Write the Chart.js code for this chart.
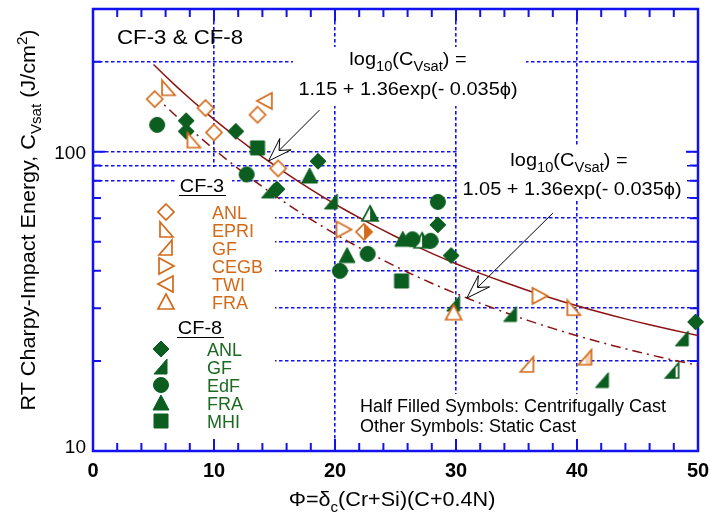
<!DOCTYPE html>
<html>
<head>
<meta charset="utf-8">
<script src="https://cdn.jsdelivr.net/npm/chart.js@4.4.1/dist/chart.umd.min.js"></script>
<style>
  html, body { margin: 0; padding: 0; background: #fff; }
  canvas { display: block; }
</style>
</head>
<body>
<canvas id="chart" width="711" height="521"></canvas>
<script>
// CF-3 heats (orange, open symbols)
const cf3AnlX = [5.1, 9.3, 10.0, 13.6, 15.3];
const cf3AnlY = [150, 140, 116, 133, 88];
const cf3AnlHalfX = [22.4];
const cf3AnlHalfY = [54];
const cf3EpriX = [6.2, 8.3, 39.7];
const cf3EpriY = [163, 109, 30];
const cf3GfX = [35.9];
const cf3GfY = [19.4];
const cf3GfHalfX = [40.7];
const cf3GfHalfY = [20.5];
const cf3CegbX = [20.7, 36.9];
const cf3CegbY = [55, 33];
const cf3TwiX = [14.2];
const cf3TwiY = [148];
const cf3FraX = [29.8];
const cf3FraY = [29];

// CF-8 heats (green, filled symbols)
const cf8AnlX = [7.7, 7.7, 11.8, 15.2, 18.6, 28.5, 29.6, 49.8];
const cf8AnlY = [127, 117, 117, 75, 93, 57, 45, 27];
const cf8GfX = [14.5, 19.7, 29.8, 34.5, 42.1, 48.7];
const cf8GfY = [74, 68, 31, 28.6, 17.2, 23.7];
const cf8GfHalfX = [47.9];
const cf8GfHalfY = [18.5];
const cf8EdfX = [5.3, 12.7, 20.4, 22.7, 26.4, 27.9, 28.5];
const cf8EdfY = [123, 84, 40, 45.6, 51, 50.4, 68];
const cf8FraX = [17.9, 21.0, 25.6];
const cf8FraY = [83, 45, 51];
const cf8FraHalfX = [22.9, 27.2];
const cf8FraHalfY = [62, 50.4];
const cf8MhiX = [13.6, 25.5];
const cf8MhiY = [103, 37];

// fit lines: log10(Cvsat) = a + b*exp(-k*phi)
const fitUpper = [1.15, 1.36, 0.035];
const fitLower = [1.05, 1.36, 0.035];
const fitPhi = [5, 6, 7, 8, 9, 10, 11, 12, 13, 14, 15, 16, 17, 18, 19, 20, 21, 22, 23, 24, 25, 26, 27, 28, 29,
  30, 31, 32, 33, 34, 35, 36, 37, 38, 39, 40, 41, 42, 43, 44, 45, 46, 47, 48, 49, 50];

// axes
const xMajorTicks = [0, 10, 20, 30, 40, 50];
const xMinorTicks = [2, 4, 6, 8, 12, 14, 16, 18, 22, 24, 26, 28, 32, 34, 36, 38, 42, 44, 46, 48];
const yTicks = [10, 20, 30, 40, 50, 60, 70, 80, 90, 100, 200, 300];
const yLabels = [10, 100];

const cf3Legend = ['ANL', 'EPRI', 'GF', 'CEGB', 'TWI', 'FRA'];
const cf8Legend = ['ANL', 'GF', 'EdF', 'FRA', 'MHI'];

const ORANGE = '#d36a1a';
const GREEN = '#0b5e1f';
const GREEN_TEXT = '#1b6a20';
const BLUE = '#1212ee';
const CURVE = '#8c1212';
const FONT = '"Liberation Sans", Arial, "DejaVu Sans", sans-serif';

const pts = (xs, ys) => xs.map((x, i) => ({ x, y: ys[i] }));
const fitCurve = ([a, b, k]) => fitPhi.map(p => ({ x: p, y: Math.pow(10, a + b * Math.exp(-k * p)) }));
const fitValue = ([a, b, k], p) => Math.pow(10, a + b * Math.exp(-k * p));

function shapePath(g, shape, c) {
  g.beginPath();
  switch (shape) {
    case 'diamond': g.moveTo(c, c - 8); g.lineTo(c + 8, c); g.lineTo(c, c + 8); g.lineTo(c - 8, c); break;
    case 'square': g.rect(c - 7, c - 7, 14, 14); break;
    case 'circle': g.arc(c, c, 7.5, 0, Math.PI * 2); break;
    case 'up': g.moveTo(c, c - 8); g.lineTo(c + 8, c + 7); g.lineTo(c - 8, c + 7); break;
    case 'right': g.moveTo(c - 7, c - 8); g.lineTo(c + 8, c); g.lineTo(c - 7, c + 8); break;
    case 'left': g.moveTo(c + 7, c - 8); g.lineTo(c - 8, c); g.lineTo(c + 7, c + 8); break;
    case 'cornerL': g.moveTo(c - 6, c - 8); g.lineTo(c + 7, c + 7); g.lineTo(c - 6, c + 7); break;
    case 'cornerR': g.moveTo(c + 6, c - 8); g.lineTo(c + 6, c + 7); g.lineTo(c - 7, c + 7); break;
  }
  g.closePath();
}

// fill: 'open' | 'solid' | 'half' (right half coloured) | 'mostly' (all but a right strip)
function makeSymbol(shape, color, fill, tint) {
  const cv = document.createElement('canvas');
  cv.width = cv.height = 20;
  const g = cv.getContext('2d');
  const c = 10;
  shapePath(g, shape, c);
  g.fillStyle = fill === 'solid' ? color : '#fff';
  g.fill();
  if (fill === 'half' || fill === 'mostly') {
    g.save();
    shapePath(g, shape, c);
    g.clip();
    g.fillStyle = tint || color;
    if (fill === 'half') g.fillRect(c, 0, 10, 20);
    else g.fillRect(0, 0, c + 3, 20);
    g.restore();
  }
  shapePath(g, shape, c);
  g.lineWidth = fill === 'solid' ? 1 : 1.7;
  g.strokeStyle = color;
  g.stroke();
  return cv;
}

const sym = {
  cf3Anl: makeSymbol('diamond', ORANGE, 'open'),
  cf3AnlHalf: makeSymbol('diamond', ORANGE, 'half'),
  cf3Epri: makeSymbol('cornerL', ORANGE, 'open'),
  cf3Gf: makeSymbol('cornerR', ORANGE, 'open'),
  cf3GfHalf: makeSymbol('cornerR', ORANGE, 'half', '#f4d2b4'),
  cf3Cegb: makeSymbol('right', ORANGE, 'open'),
  cf3Twi: makeSymbol('left', ORANGE, 'open'),
  cf3Fra: makeSymbol('up', ORANGE, 'open'),
  cf8Anl: makeSymbol('diamond', GREEN, 'solid'),
  cf8Gf: makeSymbol('cornerR', GREEN, 'solid'),
  cf8GfHalf: makeSymbol('cornerR', GREEN, 'mostly'),
  cf8Edf: makeSymbol('circle', GREEN, 'solid'),
  cf8Fra: makeSymbol('up', GREEN, 'solid'),
  cf8FraHalf: makeSymbol('up', GREEN, 'half'),
  cf8Mhi: makeSymbol('square', GREEN, 'solid')
};
const cf3LegendSym = [sym.cf3Anl, sym.cf3Epri, sym.cf3Gf, sym.cf3Cegb, sym.cf3Twi, sym.cf3Fra];
const cf8LegendSym = [sym.cf8Anl, sym.cf8Gf, sym.cf8Edf, sym.cf8Fra, sym.cf8Mhi];

function markers(xs, ys, style) {
  return { data: pts(xs, ys), pointStyle: style, pointRadius: 8, clip: false, order: 1 };
}

function drawRich(ctx, parts, x, y, size, opt = {}) {
  const { align = 'left', stretch = 1, weight = '', color = '#000', rotate = 0 } = opt;
  const fontFor = (k) => `${weight} ${k === 'n' ? size : Math.round(size * 0.72)}px ${FONT}`;
  ctx.save();
  let total = 0;
  const widths = parts.map(([t, k]) => {
    ctx.font = fontFor(k);
    const w = ctx.measureText(t).width;
    total += w;
    return w;
  });
  ctx.translate(x, y);
  if (rotate) ctx.rotate(rotate);
  ctx.scale(stretch, 1);
  let cx = align === 'center' ? -total / 2 : align === 'right' ? -total : 0;
  ctx.fillStyle = color;
  ctx.textAlign = 'left';
  ctx.textBaseline = 'alphabetic';
  parts.forEach(([t, k], i) => {
    ctx.font = fontFor(k);
    const dy = k === 'sub' ? size * 0.3 : k === 'sup' ? -size * 0.42 : 0;
    ctx.fillText(t, cx, dy);
    cx += widths[i];
  });
  ctx.restore();
}

function drawArrow(ctx, x0, y0, x1, y1) {
  const dx = x1 - x0, dy = y1 - y0, len = Math.hypot(dx, dy);
  const ux = dx / len, uy = dy / len, px = -uy, py = ux;
  const L = 24, W = 8, N = 15;
  ctx.save();
  ctx.strokeStyle = '#000';
  ctx.lineWidth = 1;
  ctx.beginPath();
  ctx.moveTo(x0, y0);
  ctx.lineTo(x1 - ux * N, y1 - uy * N);
  ctx.stroke();
  ctx.beginPath();
  ctx.moveTo(x1, y1);
  ctx.lineTo(x1 - ux * L + px * W, y1 - uy * L + py * W);
  ctx.lineTo(x1 - ux * N, y1 - uy * N);
  ctx.lineTo(x1 - ux * L - px * W, y1 - uy * L - py * W);
  ctx.closePath();
  ctx.fillStyle = '#fff';
  ctx.fill();
  ctx.stroke();
  ctx.restore();
}

const decor = {
  id: 'decor',
  beforeDatasetsDraw(chart) {
    const { ctx, chartArea: a, scales: { x, y } } = chart;
    ctx.save();
    // text backgrounds knock out the grid
    ctx.fillStyle = '#fff';
    ctx.fillRect(293, 47, 233, 59);
    ctx.fillRect(457, 145, 229, 56);
    ctx.fillRect(176, 167, 56, 24);
    ctx.fillRect(95, 186, 180, 263);
    ctx.fillRect(355, 394, 341, 55);

    // inward tick marks on all four sides
    ctx.strokeStyle = BLUE;
    ctx.lineWidth = 2;
    ctx.beginPath();
    const xt = (v, len) => {
      const px = x.getPixelForValue(v);
      ctx.moveTo(px, a.bottom); ctx.lineTo(px, a.bottom - len);
      ctx.moveTo(px, a.top); ctx.lineTo(px, a.top + len);
    };
    xMajorTicks.forEach(v => xt(v, 12));
    xMinorTicks.forEach(v => xt(v, 8));
    yTicks.forEach(v => {
      const py = y.getPixelForValue(v);
      const len = yLabels.includes(v) ? 12 : 8;
      ctx.moveTo(a.left, py); ctx.lineTo(a.left + len, py);
      ctx.moveTo(a.right, py); ctx.lineTo(a.right - len, py);
    });
    ctx.stroke();
    ctx.lineWidth = 2.5;
    ctx.strokeRect(a.left, a.top, a.right - a.left, a.bottom - a.top);
    ctx.restore();
  },
  afterDatasetsDraw(chart) {
    const { ctx, chartArea: a, scales: { x, y } } = chart;

    // tick labels
    xMajorTicks.forEach(v => drawRich(ctx, [[String(v), 'n']], x.getPixelForValue(v), 477, 20,
      { align: 'center', weight: 'bold' }));
    yLabels.forEach(v => drawRich(ctx, [[String(v), 'n']], 86, y.getPixelForValue(v) + (v === 10 ? 2 : 7), 19,
      { align: 'right' }));

    // axis titles
    drawRich(ctx, [['Φ', 'n'], ['=', 'n'], ['δ', 'n'], ['c', 'sub'], ['(Cr+Si)(C+0.4N)', 'n']],
      392, 506, 20, { align: 'center', stretch: 1.08 });
    drawRich(ctx, [['RT Charpy-Impact Energy, C', 'n'], ['Vsat', 'sub'], [' (J/cm', 'n'], ['2', 'sup'], [')', 'n']],
      35, 220, 20, { align: 'center', stretch: 1.08, rotate: -Math.PI / 2 });

    drawRich(ctx, [['CF-3 & CF-8', 'n']], 117, 44, 21, { stretch: 1.06 });

    // fit equations
    const eqHead = [['log', 'n'], ['10', 'sub'], ['(C', 'n'], ['Vsat', 'sub'], [') =', 'n']];
    drawRich(ctx, eqHead, 408, 65, 19, { align: 'center', stretch: 1.05 });
    drawRich(ctx, [['1.15 + 1.36exp(- 0.035ϕ)', 'n']], 408, 95, 19, { align: 'center', stretch: 1.05 });
    drawRich(ctx, eqHead, 569, 166, 19, { align: 'center', stretch: 1.05 });
    drawRich(ctx, [['1.05 + 1.36exp(- 0.035ϕ)', 'n']], 572, 195, 19, { align: 'center', stretch: 1.05 });

    const p1 = 14.5, p2 = 30.9;
    const t1x = x.getPixelForValue(p1), t1y = y.getPixelForValue(fitValue(fitUpper, p1));
    const t2x = x.getPixelForValue(p2), t2y = y.getPixelForValue(fitValue(fitLower, p2));
    drawArrow(ctx, t1x + 51, t1y - 51, t1x, t1y);
    drawArrow(ctx, t2x + 86, t2y - 85, t2x, t2y);

    // legend
    drawRich(ctx, [['CF-3', 'n']], 202, 192, 19, { align: 'center', stretch: 1.05 });
    drawRich(ctx, [['CF-8', 'n']], 200, 334, 19, { align: 'center', stretch: 1.05 });
    ctx.save();
    ctx.strokeStyle = '#000';
    ctx.lineWidth = 1.2;
    ctx.beginPath();
    ctx.moveTo(179, 195.5); ctx.lineTo(226, 195.5);
    ctx.moveTo(177, 337.5); ctx.lineTo(224, 337.5);
    ctx.stroke();
    ctx.restore();
    cf3Legend.forEach((name, i) => {
      const cy = 212 + i * 18;
      ctx.drawImage(cf3LegendSym[i], 156, cy - 10);
      drawRich(ctx, [[name, 'n']], 212, cy + 6.5, 18, { color: ORANGE });
    });
    cf8Legend.forEach((name, i) => {
      const cy = 349 + i * 18;
      ctx.drawImage(cf8LegendSym[i], 151, cy - 10);
      drawRich(ctx, [[name, 'n']], 207, cy + 6.5, 18, { color: GREEN_TEXT });
    });

    drawRich(ctx, [['Half Filled Symbols: Centrifugally Cast', 'n']], 360, 412, 18);
    drawRich(ctx, [['Other Symbols: Static Cast', 'n']], 360, 432, 18);
  }
};

const gridColor = (ticks) => (c) =>
  (c.tick && (c.tick.value === ticks[0] || c.tick.value === ticks[ticks.length - 1])) ? 'rgba(0,0,0,0)' : BLUE;

new Chart(document.getElementById('chart'), {
  type: 'scatter',
  data: {
    datasets: [
      { data: fitCurve(fitUpper), showLine: true, borderColor: CURVE, borderWidth: 1.5, pointRadius: 0, order: 5 },
      { data: fitCurve(fitLower), showLine: true, borderColor: CURVE, borderWidth: 1.5, borderDash: [10, 5, 2, 5],
        pointRadius: 0, order: 5 },
      markers(cf3AnlX, cf3AnlY, sym.cf3Anl),
      markers(cf3AnlHalfX, cf3AnlHalfY, sym.cf3AnlHalf),
      markers(cf3EpriX, cf3EpriY, sym.cf3Epri),
      markers(cf3GfX, cf3GfY, sym.cf3Gf),
      markers(cf3GfHalfX, cf3GfHalfY, sym.cf3GfHalf),
      markers(cf3CegbX, cf3CegbY, sym.cf3Cegb),
      markers(cf3TwiX, cf3TwiY, sym.cf3Twi),
      markers(cf3FraX, cf3FraY, sym.cf3Fra),
      markers(cf8AnlX, cf8AnlY, sym.cf8Anl),
      markers(cf8GfX, cf8GfY, sym.cf8Gf),
      markers(cf8GfHalfX, cf8GfHalfY, sym.cf8GfHalf),
      markers(cf8EdfX, cf8EdfY, sym.cf8Edf),
      markers(cf8FraX, cf8FraY, sym.cf8Fra),
      markers(cf8FraHalfX, cf8FraHalfY, sym.cf8FraHalf),
      markers(cf8MhiX, cf8MhiY, sym.cf8Mhi)
    ]
  },
  options: {
    responsive: false,
    animation: false,
    layout: { padding: { left: 93, right: 13, top: 6, bottom: 70 } },
    plugins: { legend: { display: false }, tooltip: { enabled: false } },
    scales: {
      x: {
        type: 'linear', min: 0, max: 50,
        afterBuildTicks: (s) => { s.ticks = xMajorTicks.map(v => ({ value: v })); },
        ticks: { display: false },
        grid: { color: gridColor(xMajorTicks), lineWidth: 1.6, drawTicks: false },
        border: { display: false, dash: [3.5, 2.5] }
      },
      y: {
        type: 'logarithmic', min: 10, max: 300,
        afterBuildTicks: (s) => { s.ticks = yTicks.map(v => ({ value: v })); },
        ticks: { display: false },
        grid: { color: gridColor(yTicks), lineWidth: 1.6, drawTicks: false },
        border: { display: false, dash: [3.5, 2.5] }
      }
    }
  },
  plugins: [decor]
});
</script>
</body>
</html>
